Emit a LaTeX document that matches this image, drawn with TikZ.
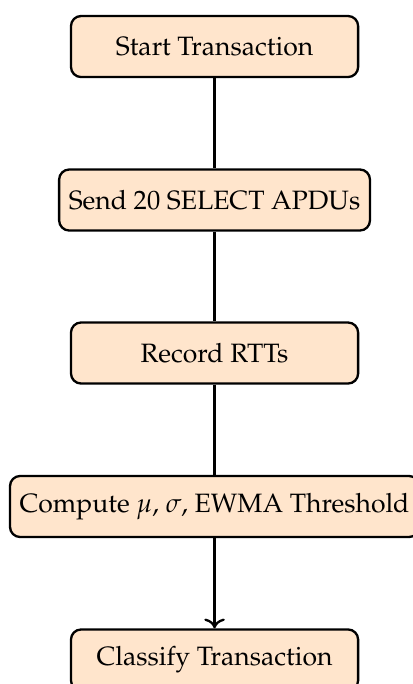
\documentclass[tikz,border=0pt]{standalone}
\usepackage[T1]{fontenc}
\usepackage{mathpazo}
\usepackage{tikz}
\usetikzlibrary{arrows.meta}
\definecolor{stepfill}{RGB}{255,229,204}

\begin{document}
\begin{tikzpicture}[
  >=To, font=\fontsize{9.15pt}{11pt}\selectfont,
  stage/.style={draw, thick, rounded corners=3.5pt, fill=stepfill,
    minimum width=3.48cm, minimum height=0.74cm, align=center}
]
\useasboundingbox (0,0) rectangle (4.993,-8.289);
\node[stage] (start) at (2.6,-0.564) {Start Transaction};
\node[stage] (send) at (2.6,-2.424) {Send 20 SELECT APDUs};
\node[stage] (record) at (2.6,-4.278) {Record RTTs};
\node[stage] (compute) at (2.6,-6.138) {Compute $\mu$, $\sigma$, EWMA Threshold};
\node[stage] (classify) at (2.6,-7.998) {Classify Transaction};

\draw[thick] (start) -- (send);
\draw[thick] (send) -- (record);
\draw[thick] (record) -- (compute);
\draw[->, thick] (compute) -- (classify);
\end{tikzpicture}
\end{document}
